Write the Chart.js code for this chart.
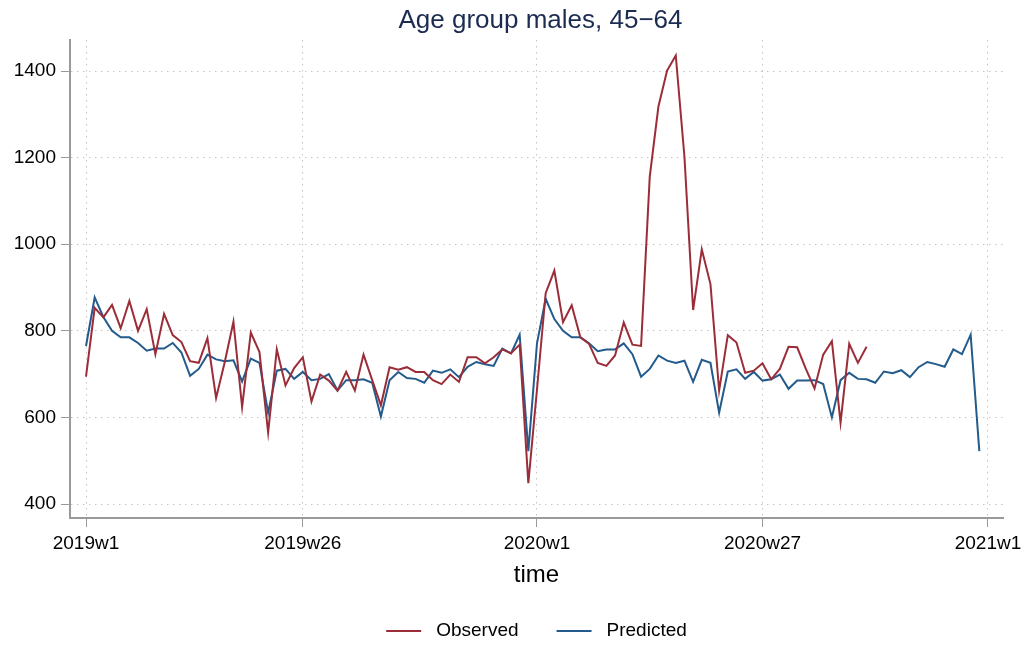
<!DOCTYPE html>
<html>
<head>
<meta charset="utf-8">
<script src="https://cdn.jsdelivr.net/npm/chart.js@4.4.1/dist/chart.umd.min.js"></script>
<style>
  html, body { margin: 0; padding: 0; background: #fff; }
  #wrap { width: 1031px; height: 646px; }
</style>
</head>
<body>
<div id="wrap"><canvas id="chart" width="1031" height="646"></canvas></div>
<script>
// weekly index: 0 = 2019w1, 52 = 2020w1, 104 = 2021w1
const weekTicks = [0, 25, 52, 78, 104];
const weekLabels = ['2019w1', '2019w26', '2020w1', '2020w27', '2021w1'];
const yTicks = [400, 600, 800, 1000, 1200, 1400];

const observed = [
  694, 853, 831, 860, 806, 869, 800, 850, 746, 839,
  790, 774, 730, 726, 783, 645, 728, 821, 624, 796,
  751, 565, 757, 674, 714, 739, 637, 699, 685, 662,
  705, 662, 745, 686, 628, 716, 710, 716, 705, 705,
  686, 677, 699, 682, 739, 739, 725, 739, 757, 748,
  768, 448, 665, 887, 939, 820, 859, 785, 770, 726,
  719, 743, 819, 768, 765, 1156, 1318, 1401, 1436, 1202,
  848, 988, 908, 662, 790, 773, 703, 708, 725, 688,
  712, 763, 762, 712, 667, 745, 776, 588, 770, 726,
  763
];

const predicted = [
  765, 877, 832, 800, 785, 785, 772, 754, 759, 759,
  772, 750, 696, 712, 745, 734, 730, 732, 683, 736,
  726, 611, 708, 712, 689, 705, 686, 689, 700, 662,
  686, 686, 688, 680, 602, 686, 705, 691, 689, 680,
  708, 703, 711, 693, 717, 728, 723, 719, 759, 748,
  791, 522, 771, 874, 827, 800, 785, 785, 771, 753,
  757, 757, 771, 746, 694, 712, 743, 731, 726, 731,
  682, 733, 726, 611, 706, 711, 689, 705, 685, 688,
  699, 666, 685, 685, 686, 677, 600, 686, 703, 689,
  688, 680, 706, 702, 709, 693, 716, 728, 723, 717,
  757, 746, 791, 522
];

const RED = '#9b2d38';
const BLUE = '#225b8c';
const FONT = '"Liberation Sans", Arial, Helvetica, sans-serif';

// title + legend centred over the plot area, like the original
const frame = {
  id: 'frame',
  afterDraw(chart) {
    const c = chart.ctx;
    const area = chart.chartArea;
    const mid = (area.left + area.right) / 2;
    c.save();
    c.fillStyle = '#1c2b52';
    c.font = '26px ' + FONT;
    c.textAlign = 'center';
    c.textBaseline = 'middle';
    c.fillText('Age group males, 45\u221264', mid + 4, 21);

    c.font = '19px ' + FONT;
    const items = chart.data.datasets.map(d => ({ text: d.label, color: d.borderColor, w: c.measureText(d.label).width }));
    const sample = 35, gap = 15, between = 38;
    let total = 0;
    items.forEach((it, i) => { total += sample + gap + it.w + (i ? between : 0); });
    let x = mid - total / 2;
    const y = 631;
    c.textAlign = 'left';
    items.forEach((it, i) => {
      if (i) x += between;
      c.strokeStyle = it.color;
      c.lineWidth = 2;
      c.beginPath();
      c.moveTo(x, y);
      c.lineTo(x + sample, y);
      c.stroke();
      x += sample + gap;
      c.fillStyle = '#000';
      c.fillText(it.text, x, y);
      x += it.w;
    });
    c.restore();
  }
};

const toPoints = arr => arr.map((v, i) => ({ x: i, y: v }));

new Chart(document.getElementById('chart'), {
  type: 'line',
  data: {
    datasets: [
      { label: 'Observed', data: toPoints(observed), borderColor: RED, backgroundColor: RED, borderWidth: 2, pointRadius: 0, tension: 0 },
      { label: 'Predicted', data: toPoints(predicted), borderColor: BLUE, backgroundColor: BLUE, borderWidth: 2, pointRadius: 0, tension: 0 }
    ]
  },
  options: {
    responsive: false,
    animation: false,
    layout: { padding: { top: 40, right: 28, bottom: 52, left: 0 } },
    plugins: {
      legend: { display: false },
      title: { display: false },
      tooltip: { enabled: false }
    },
    scales: {
      x: {
        type: 'linear',
        min: -1.845,
        max: 105.73,
        afterBuildTicks: s => { s.ticks = weekTicks.map(v => ({ value: v })); },
        afterFit: s => { s.height = 76; },
        ticks: {
          autoSkip: false,
          maxRotation: 0,
          color: '#000',
          padding: 5,
          font: { size: 19, family: FONT },
          callback: v => weekLabels[weekTicks.indexOf(v)]
        },
        grid: { color: '#c4c4c4', lineWidth: 1, tickLength: 9, tickColor: '#999', tickBorderDash: [] },
        border: { color: '#999', width: 2, dash: [1.5, 4.5] },
        title: { display: true, text: 'time', color: '#000', font: { size: 24, family: FONT } }
      },
      y: {
        min: 367.7,
        max: 1471.6,
        afterBuildTicks: s => { s.ticks = yTicks.map(v => ({ value: v })); },
        afterFit: s => { s.width = 70; },
        ticks: {
          color: '#000',
          padding: 5,
          font: { size: 19, family: FONT },
          callback: v => String(v)
        },
        grid: { color: '#c4c4c4', lineWidth: 1, tickLength: 9, tickColor: '#999', tickBorderDash: [] },
        border: { color: '#999', width: 2, dash: [1.5, 4.5] }
      }
    }
  },
  plugins: [frame]
});
</script>
</body>
</html>
